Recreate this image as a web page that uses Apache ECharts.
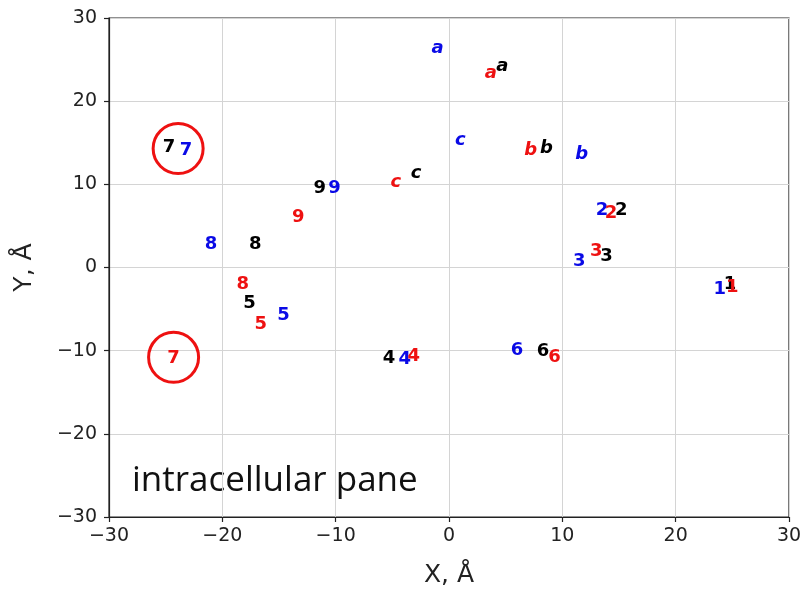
<!DOCTYPE html>
<html>
<head>
<meta charset="utf-8">
<script src="https://cdn.jsdelivr.net/npm/echarts@6/dist/echarts.min.js"></script>
<style>html,body{margin:0;padding:0;background:#fff}#c{width:809px;height:597px}</style>
</head>
<body>
<div id="c"></div>
<script>
// Labels of the marked positions
const labels = ['1','2','3','4','5','6','7','8','9','a','b','c'];
// Black set
const blackX = [24.8, 15.2, 13.9, -5.3, -17.6, 8.3, -24.7, -17.1, -11.4, 4.7, 8.6, -2.9];
const blackY = [-2.0, 6.9, 1.4, -10.9, -4.3, -10.1, 14.5, 2.8, 9.5, 24.2, 14.3, 11.3];
// Red set
const redX = [25.0, 14.3, 13.0, -3.1, -16.6, 9.3, -24.3, -18.2, -13.3, 3.7, 7.2, -4.7];
const redY = [-2.4, 6.5, 2.0, -10.7, -6.8, -10.8, -10.9, -2.0, 6.0, 23.4, 14.1, 10.3];
// Blue set
const blueX = [23.9, 13.5, 11.5, -3.9, -14.6, 6.0, -23.2, -21.0, -10.1, -1.0, 11.7, 1.0];
const blueY = [-2.6, 6.9, 0.8, -11.1, -5.7, -10.0, 14.1, 2.8, 9.5, 26.3, 13.6, 15.3];
// Highlight circles (around the "7" labels)
const circleX = [-23.9, -24.3];
const circleY = [14.3, -10.8];
// Axis ticks
const ticks = [-30, -20, -10, 0, 10, 20, 30];
const paneText = 'intracellular pane';

function build(xs, ys) {
  return xs.map((x, i) => [x, ys[i], labels[i]]);
}

function labelSeries(name, xs, ys, color, z) {
  return {
    name: name,
    type: 'scatter',
    z: z,
    symbolSize: 0.1,
    itemStyle: { color: 'transparent', opacity: 1 },
    data: build(xs, ys).map(d => ({
      value: d,
      label: /[a-z]/.test(d[2]) ? { fontStyle: 'italic' } : {}
    })),
    label: {
      show: true,
      position: 'inside',
      formatter: p => p.value[2],
      color: color,
      opacity: 1,
      fontFamily: 'DejaVu Sans',
      fontWeight: 'bold',
      fontSize: 18
    },
    labelLayout: { hideOverlap: false },
    emphasis: { disabled: true }
  };
}

const fmt = v => (v < 0 ? '\u2212' + Math.abs(v) : String(v));

const chart = echarts.init(document.getElementById('c'), null, { renderer: 'canvas' });
const axisCommon = {
  type: 'value',
  min: ticks[0],
  max: ticks[ticks.length - 1],
  interval: 10,
  nameLocation: 'middle',
  nameTextStyle: { fontFamily: 'DejaVu Sans', fontSize: 25, color: '#222' },
  axisLine: { show: true, onZero: false, lineStyle: { color: '#222', width: 1.2 } },
  axisTick: { show: true, inside: false, length: 5, lineStyle: { color: '#222', width: 1.2 } },
  axisLabel: { fontFamily: 'DejaVu Sans', fontSize: 19, color: '#222', margin: 10, formatter: fmt },
  splitLine: { show: true, lineStyle: { color: '#d4d4d4', width: 1 } }
};

chart.setOption({
  animation: false,
  backgroundColor: '#fff',
  grid: { left: 109, right: 20, top: 18, bottom: 80, show: true, borderColor: '#222', borderWidth: 1.2, backgroundColor: 'transparent' },
  xAxis: Object.assign({}, axisCommon, { name: 'X, Å', nameGap: 46 }),
  yAxis: Object.assign({}, axisCommon, { name: 'Y, Å', nameGap: 72,
    axisLabel: Object.assign({}, axisCommon.axisLabel, { margin: 12 }) }),
  series: [
    {
      type: 'scatter',
      z: 1,
      symbol: 'circle',
      symbolSize: 50,
      itemStyle: { color: 'transparent', borderColor: '#ee1111', borderWidth: 3, opacity: 1 },
      data: circleX.map((x, i) => [x, circleY[i]]),
      emphasis: { disabled: true }
    },
    labelSeries('black', blackX, blackY, '#000000', 2),
    labelSeries('blue', blueX, blueY, '#0a0ae6', 3),
    labelSeries('red', redX, redY, '#ee1111', 4)
  ],
  graphic: [{
    type: 'text',
    left: 132,
    top: 464,
    style: { text: paneText, fontFamily: 'Open Sans', fontSize: 35, fill: '#111' }
  }]
});
</script>
</body>
</html>
